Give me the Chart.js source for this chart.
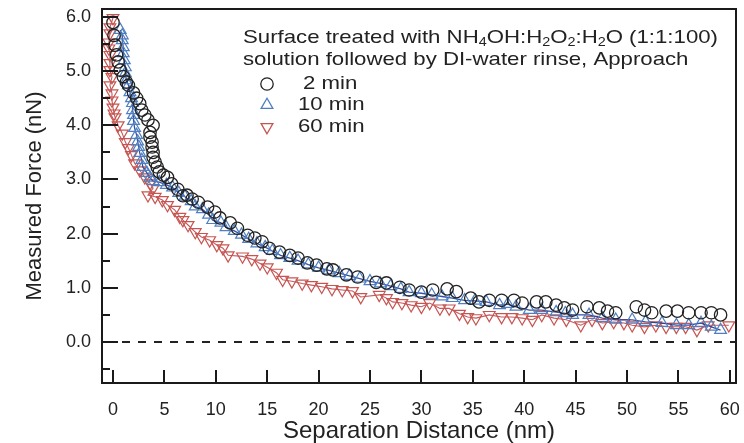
<!DOCTYPE html>
<html><head><meta charset="utf-8">
<script src="https://cdn.jsdelivr.net/npm/chart.js@4.4.1/dist/chart.umd.min.js"></script>
<style>html,body{margin:0;padding:0;background:#fff}</style>
</head><body>
<canvas id="c" width="744" height="443"></canvas>
<script>
// ---------- data ----------
const xTickValues = [0,5,10,15,20,25,30,35,40,45,50,55,60];
const yTickValues = [-0.5,0,0.5,1,1.5,2,2.5,3,3.5,4,4.5,5,5.5,6];
const yTickLabels = ["","0.0","","1.0","","2.0","","3.0","","4.0","","5.0","","6.0"];
const seriesNames = ["2 min","10 min","60 min"];

const x2 = [0,0.1,0.2,0.35,0.5,0.7,1.0,1.3,1.5,2.0,2.3,2.6,2.8,3.1,3.4,3.9,3.6,3.6,3.8,3.8,3.9,3.9,4.1,4.3,4.5,4.9,5.3,5.7,6.3,6.8,7.2,7.7,8.3,9.2,9.9,10.4,11.4,12.1,13.1,13.8,14.5,15.2,16.2,17.2,18.0,18.9,19.8,20.8,21.4,22.7,23.8,25.6,26.6,27.9,28.8,30.0,31.1,32.5,33.4,34.8,35.6,36.6,37.8,39.0,39.8,41.2,42.1,43.1,43.9,44.7,46.1,47.3,48.1,48.9,50.9,51.7,52.4,53.8,54.9,56.0,57.2,58.2,59.1];
const y2 = [5.9,5.66,5.48,5.3,5.17,5.02,4.9,4.8,4.74,4.6,4.5,4.4,4.28,4.19,4.1,4.0,3.87,3.78,3.69,3.6,3.5,3.41,3.32,3.23,3.14,3.08,3.04,2.92,2.82,2.7,2.71,2.64,2.58,2.49,2.4,2.29,2.2,2.1,1.97,1.92,1.85,1.73,1.66,1.6,1.55,1.46,1.42,1.35,1.33,1.24,1.2,1.1,1.09,1.01,0.96,0.92,0.96,0.98,0.93,0.81,0.74,0.77,0.77,0.77,0.72,0.74,0.74,0.68,0.63,0.59,0.65,0.63,0.57,0.54,0.65,0.59,0.54,0.57,0.57,0.54,0.54,0.54,0.5];

const x10 = [0.7,0.9,0.9,1.0,1.0,1.1,1.2,1.2,1.3,1.5,1.65,1.8,1.9,1.9,2.0,2.0,2.1,2.3,2.4,2.5,2.6,2.8,2.9,3.3,3.6,3.9,4.5,5.2,5.8,6.4,7.0,7.6,8.0,8.7,9.3,9.7,10.5,11.0,11.8,12.5,13.2,14.0,14.8,15.5,16.3,17.2,18.0,19.0,20.0,21.0,22.0,23.0,24.0,25.0,26.0,27.0,28.0,28.8,30.0,31.0,32.0,33.0,34.2,35.2,36.3,37.6,38.4,39.2,40.5,41.7,43.1,44.0,44.7,46.3,47.6,48.9,50.5,51.8,53.4,54.8,56.0,57.2,58.2,59.1];
const y10 = [5.76,5.66,5.57,5.44,5.33,5.2,5.07,4.96,4.83,4.74,4.61,4.5,4.41,4.28,4.19,4.08,3.95,3.82,3.7,3.6,3.49,3.36,3.23,3.12,3.03,2.97,2.95,2.9,2.85,2.75,2.68,2.6,2.5,2.45,2.35,2.25,2.2,2.12,2.05,1.98,1.9,1.82,1.75,1.68,1.6,1.55,1.5,1.43,1.37,1.32,1.27,1.22,1.17,1.12,1.08,1.03,0.98,0.92,0.9,0.87,0.84,0.81,0.77,0.76,0.74,0.68,0.7,0.65,0.59,0.59,0.55,0.53,0.5,0.5,0.44,0.41,0.41,0.37,0.35,0.31,0.31,0.35,0.28,0.22];

const x60 = [0,-0.3,-0.3,-0.4,-0.4,-0.3,-0.3,-0.3,-0.1,-0.3,-0.1,-0.1,0,0.1,0.2,0.5,0.9,1.2,1.5,1.8,2.1,2.6,3.1,3.6,3.9,3.4,4.1,4.8,5.3,6.0,6.5,6.8,7.3,8.0,8.6,9.4,10.1,10.7,11.2,12.6,13.5,14.3,15.0,15.9,16.5,17.4,18.4,19.3,20.3,21.3,22.3,23.3,24.1,25.9,26.6,27.2,28.1,29.0,30.0,30.8,31.8,32.7,33.7,34.5,35.3,36.6,37.8,38.8,39.8,40.8,41.7,42.9,44.1,45.5,46.6,47.6,48.7,49.7,50.5,51.7,52.8,53.8,54.8,55.7,56.8,57.9,59.9];
const y60 = [5.98,5.81,5.7,5.53,5.42,5.3,5.15,5.02,4.89,4.74,4.59,4.46,4.33,4.22,4.15,4.0,3.85,3.69,3.58,3.45,3.3,3.17,3.04,2.93,2.84,2.71,2.68,2.62,2.53,2.44,2.31,2.25,2.16,2.03,1.94,1.88,1.79,1.73,1.6,1.58,1.53,1.45,1.38,1.28,1.15,1.12,1.08,1.05,1.02,0.98,0.96,0.94,0.83,0.87,0.81,0.74,0.72,0.68,0.65,0.72,0.62,0.62,0.52,0.46,0.44,0.5,0.46,0.46,0.44,0.41,0.5,0.44,0.41,0.31,0.41,0.35,0.37,0.35,0.31,0.28,0.31,0.28,0.28,0.28,0.22,0.31,0.31];

// ---------- helpers ----------
const FONT = "'Liberation Sans', Arial, sans-serif";
const pts = (xs, ys) => xs.map((x, i) => ({x: x, y: ys[i]}));
const BLACK = '#222222', BLUE = '#4F7FC0', RED = '#C65550';

const decorPlugin = {
  id: 'decor',
  beforeDatasetsDraw(chart) {
    const ctx = chart.ctx, a = chart.chartArea;
    const ys = chart.scales.y;
    ctx.save();
    ctx.strokeStyle = '#222';
    ctx.lineWidth = 2;
    ctx.setLineDash([8, 8]);
    const y0 = ys.getPixelForValue(0);
    ctx.beginPath(); ctx.moveTo(a.left + 4, y0); ctx.lineTo(a.right, y0); ctx.stroke();
    ctx.restore();
  },
  afterDraw(chart) {
    const ctx = chart.ctx, a = chart.chartArea;
    const xs = chart.scales.x, ys = chart.scales.y;
    ctx.save();
    ctx.strokeStyle = '#1a1a1a';
    ctx.lineWidth = 2;
    ctx.setLineDash([]);
    ctx.strokeRect(a.left, a.top, a.right - a.left, a.bottom - a.top);
    ctx.beginPath();
    yTickValues.forEach(v => {
      const p = Math.round(ys.getPixelForValue(v));
      const len = Number.isInteger(v) ? 16 : 8;
      ctx.moveTo(a.left, p); ctx.lineTo(a.left + len, p);
    });
    xTickValues.forEach(v => {
      const p = Math.round(xs.getPixelForValue(v));
      ctx.moveTo(p, a.bottom); ctx.lineTo(p, a.bottom - 13);
    });
    ctx.stroke();

    const drawRich = (parts, x, y) => {
      ctx.save();
      ctx.translate(x, y);
      ctx.scale(1.2, 1);
      ctx.fillStyle = '#222';
      ctx.textBaseline = 'middle';
      ctx.textAlign = 'left';
      let cx = 0;
      parts.forEach(p => {
        const sub = p[1];
        ctx.font = (sub ? '12px ' : '18.5px ') + FONT;
        ctx.fillText(p[0], cx, sub ? 5 : 0);
        cx += ctx.measureText(p[0]).width;
      });
      ctx.restore();
    };
    drawRich([["Surface treated with NH"],["4",1],["OH:H"],["2",1],["O"],["2",1],[":H"],["2",1],["O (1:1:100)"]], 243, 38);
    drawRich([["solution followed by DI-water rinse, Approach"]], 243, 60);

    const ds = chart.data.datasets;
    const rows = [84, 105, 127];
    const labelX = [303, 298, 298];
    for (let i = 0; i < 3; i++) {
      const d = ds[i];
      ctx.save();
      ctx.strokeStyle = d.pointBorderColor;
      ctx.fillStyle = 'rgba(0,0,0,0)';
      ctx.lineWidth = 1.3;
      Chart.helpers.drawPoint(ctx, {pointStyle: d.pointStyle, rotation: d.rotation || 0, radius: d.pointRadius, borderWidth: 1.3}, 267, rows[i]);
      ctx.restore();
      drawRich([[seriesNames[i]]], labelX[i], rows[i]);
    }
    ctx.restore();
  }
};

new Chart(document.getElementById('c'), {
  type: 'scatter',
  data: {
    datasets: [
      {label: seriesNames[0], data: pts(x2, y2), pointStyle: 'circle', pointRadius: 6.2, pointBorderWidth: 1.3,
       pointBorderColor: BLACK, pointBackgroundColor: 'rgba(0,0,0,0)', borderColor: BLACK, showLine: false},
      {label: seriesNames[1], data: pts(x10, y10), pointStyle: 'triangle', pointRadius: 6.8, pointBorderWidth: 1.2,
       pointBorderColor: BLUE, pointBackgroundColor: 'rgba(0,0,0,0)', borderColor: 'rgba(30,60,155,0.9)', borderWidth: 1.3, showLine: true},
      {label: seriesNames[2], data: pts(x60, y60), pointStyle: 'triangle', rotation: 180, pointRadius: 6.8, pointBorderWidth: 1.2,
       pointBorderColor: RED, pointBackgroundColor: 'rgba(0,0,0,0)', borderColor: 'rgba(185,60,70,0.85)', borderWidth: 1.1, showLine: true}
    ]
  },
  options: {
    responsive: false,
    animation: false,
    devicePixelRatio: 1,
    layout: {padding: {left: 18, top: 9, right: 7, bottom: 0}},
    plugins: {legend: {display: false}, tooltip: {enabled: false}},
    elements: {point: {hoverRadius: 6}},
    scales: {
      x: {
        type: 'linear', min: -1.07, max: 60.6,
        afterBuildTicks: s => { s.ticks = xTickValues.map(v => ({value: v})); },
        afterFit: s => { s.height = 60; s.paddingLeft = 0; s.paddingRight = 0; },
        grid: {display: false, drawTicks: false},
        border: {display: false},
        ticks: {autoSkip: false, maxRotation: 0, padding: 16, color: '#222', font: {family: FONT, size: 18},
                callback: v => String(v)},
        title: {display: true, text: 'Separation Distance (nm)', color: '#222',
                font: {family: FONT, size: 24, lineHeight: 1}, padding: {top: 0, bottom: 0}}
      },
      y: {
        type: 'linear', min: -0.757, max: 6.147,
        afterBuildTicks: s => { s.ticks = yTickValues.map(v => ({value: v})); },
        afterFit: s => { s.width = 84; s.paddingTop = 0; s.paddingBottom = 0; },
        grid: {display: false, drawTicks: false},
        border: {display: false},
        ticks: {autoSkip: false, padding: 11, color: '#222', font: {family: FONT, size: 18},
                callback: (v, i) => yTickLabels[i]},
        title: {display: true, text: 'Measured Force (nN)', color: '#222',
                font: {family: FONT, size: 22, lineHeight: 1.2}, padding: {top: 4, bottom: 4}}
      }
    }
  },
  plugins: [decorPlugin]
});
</script>
</body></html>
